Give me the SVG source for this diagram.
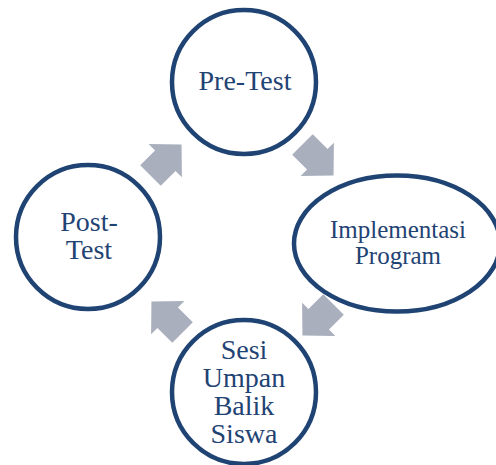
<svg xmlns="http://www.w3.org/2000/svg" width="496" height="465" viewBox="0 0 496 465">
<style>
.node{fill:#ffffff;stroke:#1f4373;stroke-width:4.5}
.lbl{font-family:"Liberation Serif","Times New Roman",serif;fill:#1f4373;text-anchor:middle}
.arr{fill:#a9afbd}
</style>
<defs>
<polygon id="arrow" points="-22,-14.5 -1,-14.5 -1,-23.5 22,0 -1,23.5 -1,14.5 -22,14.5"/>
</defs>
<rect width="496" height="465" fill="#ffffff"/>
<g id="connectors" class="arr">
<use href="#arrow" transform="translate(166,160) rotate(-45)"/>
<use href="#arrow" transform="translate(318,160) rotate(45)"/>
<use href="#arrow" transform="translate(318,320) rotate(135)"/>
<use href="#arrow" transform="translate(167,317) rotate(-135)"/>
</g>
<g id="pre-test">
<circle class="node" cx="244" cy="82" r="72"/>
<text class="lbl" x="245" y="90" font-size="28">Pre-Test</text>
</g>
<g id="implementasi-program">
<ellipse class="node" cx="397" cy="243.5" rx="103" ry="68"/>
<text class="lbl" x="398" y="238" font-size="25">Implementasi</text>
<text class="lbl" x="398" y="264" font-size="25">Program</text>
</g>
<g id="sesi-umpan-balik">
<circle class="node" cx="244" cy="392" r="72"/>
<text class="lbl" x="244" y="359" font-size="28">Sesi</text>
<text class="lbl" x="244" y="387" font-size="28">Umpan</text>
<text class="lbl" x="244" y="415" font-size="28">Balik</text>
<text class="lbl" x="244" y="443" font-size="28">Siswa</text>
</g>
<g id="post-test">
<circle class="node" cx="88" cy="237" r="72"/>
<text class="lbl" x="89" y="231" font-size="28">Post-</text>
<text class="lbl" x="89" y="259" font-size="28">Test</text>
</g>
</svg>
